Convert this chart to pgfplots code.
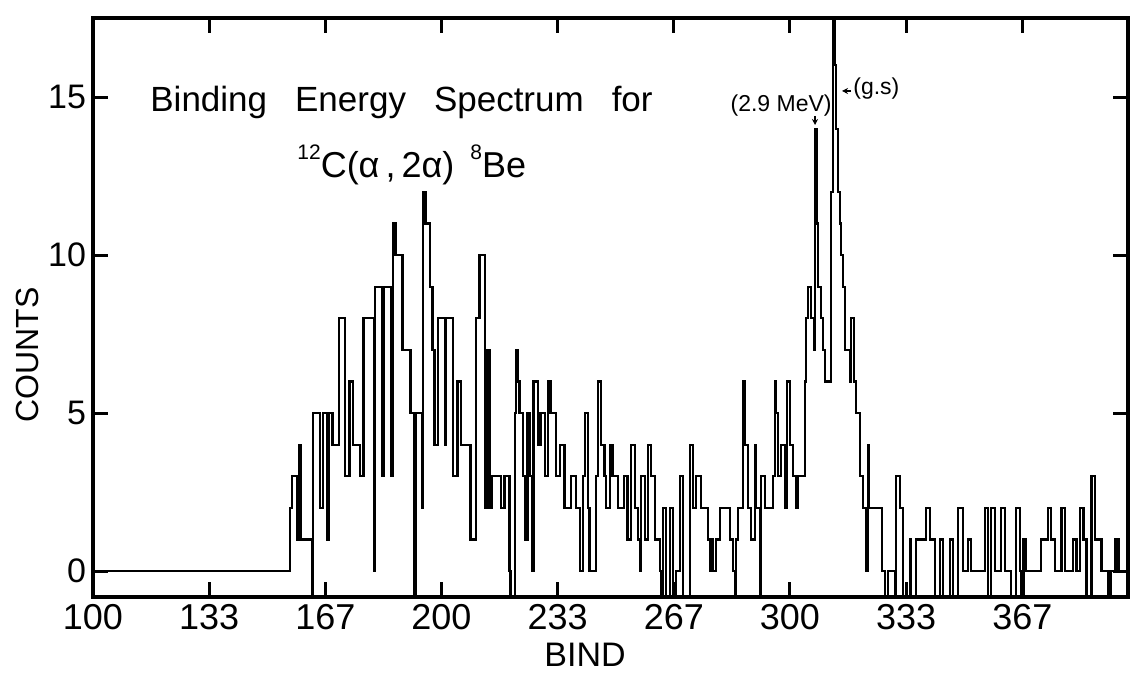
\documentclass[border=0pt]{standalone}
\usepackage{pgfplots}
\usepackage{pgfplotstable}
\pgfplotsset{compat=1.18}
\usepackage{fontspec}
\setmainfont{Liberation Sans}
\usetikzlibrary{arrows.meta}

% Binding-energy spectrum, counts per channel (BIND, COUNTS)
\pgfplotstableread{
x y
100.0 0
156.3 0
156.6 2
157.2 3
157.8 3
158.6 1
159.2 4
159.8 1
161.5 1
162.9 -1
163.2 5
165.2 2
166.1 5
167.2 1
167.8 5
168.7 4
170.1 4
170.7 8
172.4 3
173.6 6
174.7 4
175.9 4
176.7 3
177.6 8
180.7 0
181.0 9
183.0 3
183.6 9
185.6 3
186.2 11
186.8 10
188.8 7
191.1 5
192.2 -1
192.8 5
194.3 2
194.8 12
195.4 11
196.6 9
197.4 7
198.0 4
199.1 8
200.9 4
201.4 8
203.2 3
204.6 6
205.7 4
208.3 1
209.8 8
210.9 10
212.6 2
213.2 7
213.8 2
214.4 3
216.7 3
217.0 2
218.1 3
219.5 0
219.8 -1
220.4 -1
221.0 5
221.3 7
221.8 6
222.4 5
223.3 3
224.1 1
224.7 5
225.3 3
226.1 0
226.4 6
227.6 4
228.4 5
229.6 3
230.5 6
231.3 5
232.8 3
233.9 4
235.3 2
236.8 2
237.1 3
238.5 2
239.7 0
240.5 3
241.1 5
242.0 2
242.5 0
244.0 0
244.3 3
244.8 6
245.7 4
246.8 3
247.1 2
248.3 4
249.1 3
250.6 2
251.4 2
252.3 3
253.4 1
254.3 4
255.5 2
256.3 1
256.9 0
257.2 3
258.3 1
259.2 4
260.1 3
261.2 1
262.6 0
262.9 -1
263.5 2
264.4 -1
265.5 2
266.4 -1
267.2 0
268.4 3
269.3 -1
270.1 -1
271.3 4
272.1 2
273.0 3
274.4 2
275.9 2
276.4 1
277.0 0
277.3 1
277.9 0
278.7 1
279.9 2
282.2 2
282.8 1
283.6 0
284.2 -1
284.5 1
285.1 2
285.9 2
286.5 6
287.1 4
287.9 2
288.8 1
289.9 4
290.2 2
291.4 -1
291.7 3
292.8 2
294.3 2
295.1 3
295.7 6
296.0 5
296.6 3
297.4 4
298.6 2
299.1 6
300.0 4
300.9 3
301.7 2
302.3 3
304.3 6
304.6 8
305.2 9
306.0 8
306.9 7
307.2 14
307.8 11
308.0 9
308.9 8
309.5 7
310.1 6
311.5 6
311.8 12
312.1 12
312.4 19
313.0 16
313.3 14
313.8 12
314.4 11
314.7 10
315.2 9
315.8 7
316.7 7
317.2 6
317.5 8
318.1 8
318.4 6
319.0 5
320.1 3
321.0 2
321.8 0
322.4 4
322.7 2
325.9 2
326.4 0
327.3 -1
328.2 0
329.6 0
330.2 -1
330.5 3
331.6 2
332.5 -1
333.3 -1
334.5 1
334.8 -1
335.9 -1
336.2 1
337.6 1
339.1 2
340.2 1
341.7 -1
343.1 1
344.0 -1
344.8 -1
346.0 1
346.8 -1
347.7 -1
348.3 2
349.7 0
351.1 1
352.0 0
355.5 0
356.0 2
356.9 -1
357.5 -1
357.8 2
358.9 0
360.6 2
361.8 0
363.5 -1
364.9 2
366.1 0
366.4 -1
367.0 1
367.8 0
371.8 0
372.1 1
374.1 2
375.0 1
376.1 0
377.9 2
379.0 0
380.5 0
381.3 1
382.2 0
383.3 2
384.2 1
385.1 -1
386.2 -1
386.5 3
387.6 1
388.5 1
389.4 0
391.4 -1
392.2 0
393.4 1
394.3 0
397.1 0
}\spectrum

\begin{document}
\begin{tikzpicture}
\useasboundingbox (-46.5pt,-38.5pt) rectangle (518.5pt,298.5pt);
\begin{axis}[
  at={(0pt,0pt)}, anchor=south west,
  scale only axis, width=517.5pt, height=289.5pt,
  xmin=100, xmax=397, ymin=-0.82, ymax=17.5,
  axis line style={line width=1.8pt},
  tick align=inside, tick pos=both,
  major tick length=7.5pt,
  every tick/.style={black, line width=1.5pt},
  xtick={100,133.333,166.667,200,233.333,266.667,300,333.333,366.667},
  xticklabels={100,133,167,200,233,267,300,333,367},
  ytick={0,5,10,15},
  yticklabels={0,5,10,15},
  xticklabel style={font=\fontsize{18}{18}\selectfont},
  yticklabel style={font=\fontsize{17}{17}\selectfont},
  clip=true,
]
\addplot[black, line width=1.1pt, line join=miter, const plot] table[x=x, y=y] {\spectrum};
\end{axis}

% axis titles
\node[font=\fontsize{17}{17}\selectfont, anchor=base, inner sep=0pt] at (246pt,-35pt) {BIND};
\node[font=\fontsize{16}{16}\selectfont, rotate=90] at (-33pt,121pt) {COUNTS};

% plot title
\node[anchor=base west, inner sep=0pt, font=\fontsize{17.5}{20}\selectfont]
  at (28.5pt,242.5pt) {Binding\hspace{14pt}Energy\hspace{14pt}Spectrum\hspace{14pt}for};
\node[anchor=base west, inner sep=0pt, font=\fontsize{18}{20}\selectfont]
  at (102pt,209.5pt) {\raisebox{9pt}{\fontsize{10.5}{11}\selectfont 12}C(α\,,\,2α)\hspace{8pt}\raisebox{9pt}{\fontsize{10.5}{11}\selectfont 8}Be};

% peak markers
\node[anchor=base east, inner sep=0pt, font=\fontsize{11.5}{12}\selectfont]
  at (369.5pt,242.5pt) {(2.9 MeV)};
\draw[-{Stealth[length=3pt,width=3pt]}, line width=0.8pt] (361pt,240.5pt) -- (361pt,236pt);
\draw[-{Stealth[length=3pt,width=3pt]}, line width=0.8pt] (379pt,253pt) -- (374.5pt,253pt);
\node[anchor=base west, inner sep=0pt, font=\fontsize{11.5}{12}\selectfont]
  at (380pt,251pt) {(g.s)};
\end{tikzpicture}
\end{document}
